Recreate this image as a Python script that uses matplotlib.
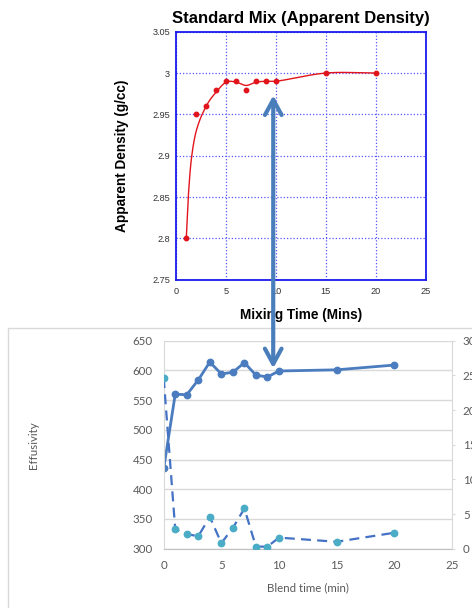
import numpy as np
import matplotlib.pyplot as plt
from matplotlib.patches import ConnectionPatch, Rectangle

# top chart: apparent density vs mixing time
mix_time = [1, 2, 3, 4, 5, 6, 7, 8, 9, 10, 15, 20]
density = [2.80, 2.95, 2.96, 2.98, 2.99, 2.99, 2.98, 2.99, 2.99, 2.99, 3.00, 3.00]
# smoothed trend line
trend_x = [1, 1.2, 1.5, 2, 3, 4, 5, 6, 7, 8, 9, 10, 15, 20]
trend_y = [2.80, 2.85, 2.895, 2.93, 2.96, 2.977, 2.989, 2.989, 2.985, 2.989, 2.99, 2.99, 3.0, 3.0]

# bottom chart: effusivity (left) and dashed series (right axis) vs blend time
blend_time = [0, 1, 2, 3, 4, 5, 6, 7, 8, 9, 10, 15, 20]
effusivity = [435, 560, 559, 584, 614, 594, 597, 613, 592, 589, 599, 601, 609]
rsd = [24.6, 2.8, 2.1, 1.8, 4.6, 0.8, 3.0, 5.8, 0.3, 0.3, 1.6, 1.0, 2.3]


def smooth(x, y, n=30):
    # cardinal spline through the knots, only for drawing a smoothed line
    x = np.asarray(x, float)
    y = np.asarray(y, float)
    m = np.zeros_like(y)
    m[1:-1] = (y[2:] - y[:-2]) / (x[2:] - x[:-2])
    m[0] = (y[1] - y[0]) / (x[1] - x[0])
    m[-1] = (y[-1] - y[-2]) / (x[-1] - x[-2])
    xs, ys = [], []
    for i in range(len(x) - 1):
        h = x[i + 1] - x[i]
        t = np.linspace(0, 1, n)
        h00 = 2*t**3 - 3*t**2 + 1
        h10 = t**3 - 2*t**2 + t
        h01 = -2*t**3 + 3*t**2
        h11 = t**3 - t**2
        xs.append(x[i] + t*h)
        ys.append(h00*y[i] + h10*h*m[i] + h01*y[i+1] + h11*h*m[i+1])
    return np.concatenate(xs), np.concatenate(ys)


W, H = 472, 608
fig = plt.figure(figsize=(W/100, H/100), dpi=100)
plt.rcParams['font.family'] = ['Liberation Sans', 'DejaVu Sans']

# outer frame of the lower chart
fig.add_artist(Rectangle((8.3/W, -0.05), 1.0, (H - 328)/H + 0.05, transform=fig.transFigure,
                         fill=False, ec='#D9D9D9', lw=1, zorder=-1))

# ---- top chart
ax = fig.add_axes([176.3/W, 1 - 279.7/H, 249.4/W, 248/H])
red = '#E2141B'
sx, sy = smooth(trend_x, trend_y)
ax.plot(sx, sy, color=red, lw=1)
ax.plot(mix_time, density, 'o', color=red, ms=3.2)
ax.set_xlim(0, 25)
ax.set_ylim(2.75, 3.05)
ax.set_xticks([0, 5, 10, 15, 20, 25])
ax.set_yticks([2.75, 2.8, 2.85, 2.9, 2.95, 3.0, 3.05])
ax.set_yticklabels(['2.75', '2.8', '2.85', '2.9', '2.95', '3', '3.05'])
ax.grid(True, color='#5555FF', ls=(0, (1, 1.6)), lw=0.9)
for s in ax.spines.values():
    s.set_color('#1a1aee')
    s.set_linewidth(1.3)
ax.tick_params(length=0, labelsize=6.6, colors='#333333')
ax.tick_params(axis='y', pad=4.5)
ax.tick_params(axis='x', pad=5)
ax.set_title('Standard Mix (Apparent Density)', fontsize=12, fontweight='bold', pad=6)
ax.set_xlabel('Mixing Time (Mins)', fontsize=9.8, fontweight='bold', labelpad=9)
ax.set_ylabel('Apparent Density (g/cc)', fontsize=9.8, fontweight='bold', labelpad=17)

# ---- bottom chart
gray = '#595959'
ax2 = fig.add_axes([163.7/W, 1 - 548.7/H, 288.2/W, 208/H])
axr = ax2.twinx()
ax2.plot(blend_time, effusivity, color='#4A7CBF', lw=2, marker='o', ms=4.6)
axr.plot(blend_time, rsd, color='#4472C4', lw=1.6, ls=(0, (4.5, 2.8)), marker='o', ms=4.6,
         mfc='#4BACC6', mec='#4BACC6')
ax2.set_xlim(0, 25)
ax2.set_ylim(300, 650)
axr.set_ylim(0, 30)
ax2.set_xticks(range(0, 26, 5))
ax2.set_yticks(range(300, 651, 50))
axr.set_yticks(range(0, 31, 5))
ax2.yaxis.grid(True, color='#D9D9D9', lw=1)
ax2.set_axisbelow(True)
ax2.spines['top'].set_visible(False)
ax2.spines['right'].set_visible(False)
ax2.spines['left'].set_color('#D9D9D9')
ax2.spines['bottom'].set_color('#BFBFBF')
for k in ['top', 'left', 'bottom']:
    axr.spines[k].set_visible(False)
axr.spines['right'].set_color('#D9D9D9')
ax2.tick_params(length=0, labelsize=8.3, colors=gray, labelfontfamily='Lato')
ax2.tick_params(axis='y', pad=8)
ax2.tick_params(axis='x', pad=8)
axr.tick_params(length=2.4, color='#D9D9D9', labelsize=8.3, labelcolor=gray, pad=5.5,
                labelfontfamily='Lato')
ax2.set_xlabel('Blend time (min)', fontsize=8.3, color=gray, family='Lato', labelpad=8)
ax2.set_ylabel('Effusivity', fontsize=8.3, color=gray, family='Lato', labelpad=67)

# double-headed arrow linking the two charts
con = ConnectionPatch(xyA=(9.72, 2.973), coordsA=ax.transData,
                      xyB=(9.5, 603.6), coordsB=ax2.transData,
                      arrowstyle='<->,head_length=1.1,head_width=0.6',
                      color='#4A7EBB', lw=3, mutation_scale=10, zorder=10)
fig.add_artist(con)

fig.savefig('out.png', dpi=100)
